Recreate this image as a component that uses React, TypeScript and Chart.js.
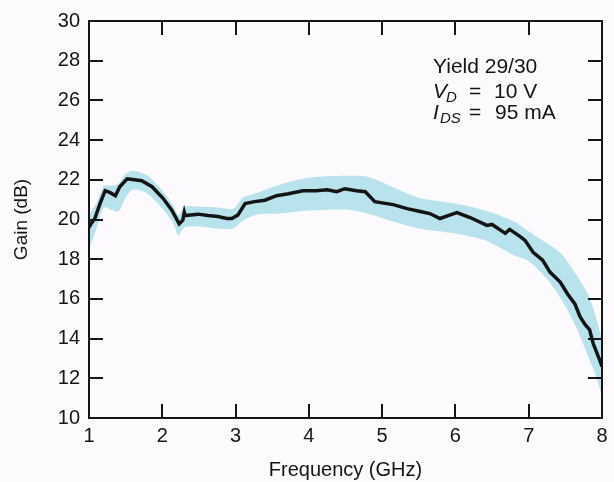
import React, { useEffect, useRef } from "react";
import { Chart, registerables } from "chart.js";

Chart.register(...registerables);

// Measured mean gain curve
const freqs = [1.0, 1.03, 1.08, 1.15, 1.22, 1.29, 1.36, 1.42, 1.52, 1.62, 1.72, 1.86, 2.01, 2.13, 2.23, 2.28, 2.3, 2.31, 2.49, 2.62, 2.76, 2.88, 2.95, 3.03, 3.13, 3.26, 3.4, 3.56, 3.72, 3.92, 4.1, 4.25, 4.38, 4.49, 4.65, 4.77, 4.9, 5.15, 5.34, 5.52, 5.65, 5.79, 5.9, 6.02, 6.2, 6.43, 6.5, 6.62, 6.68, 6.74, 6.88, 6.95, 7.06, 7.19, 7.29, 7.43, 7.53, 7.63, 7.7, 7.77, 7.83, 7.88, 7.97, 8.0];
const gain = [19.6, 19.8, 20.05, 20.8, 21.45, 21.35, 21.2, 21.65, 22.05, 22.0, 21.95, 21.65, 21.07, 20.47, 19.78, 19.97, 20.35, 20.2, 20.27, 20.2, 20.15, 20.05, 20.05, 20.22, 20.8, 20.9, 20.97, 21.2, 21.3, 21.45, 21.45, 21.5, 21.4, 21.55, 21.45, 21.4, 20.9, 20.75, 20.55, 20.4, 20.3, 20.05, 20.2, 20.35, 20.1, 19.7, 19.75, 19.45, 19.3, 19.5, 19.15, 18.95, 18.35, 17.95, 17.35, 16.85, 16.25, 15.75, 15.1, 14.7, 14.45, 13.75, 12.9, 12.6];

// Spread band (min/max over devices)
const bandFreq = [1.0, 1.1, 1.2, 1.3, 1.4, 1.5, 1.6, 1.8, 2.0, 2.15, 2.22, 2.3, 2.5, 2.75, 2.97, 3.1, 3.3, 3.6, 4.0, 4.5, 4.8, 5.1, 5.5, 6.0, 6.4, 6.8, 7.0, 7.25, 7.45, 7.65, 7.8, 7.9, 8.0];
const bandUpper = [20.2, 20.8, 21.7, 21.7, 21.8, 22.3, 22.45, 22.2, 21.45, 20.7, 20.2, 20.65, 20.65, 20.6, 20.55, 21.1, 21.35, 21.75, 22.1, 22.2, 22.15, 21.7, 21.1, 20.8, 20.45, 19.9, 19.4, 18.8, 18.25, 17.2, 16.3, 15.3, 13.9];
const bandLower = [18.5, 19.5, 20.6, 20.5, 20.4, 21.1, 21.5, 21.3, 20.55, 19.8, 19.2, 19.6, 19.65, 19.55, 19.55, 19.95, 20.25, 20.3, 20.45, 20.5, 20.3, 19.95, 19.55, 19.3, 18.95, 18.2, 17.9, 17.0, 15.95, 14.55, 13.2, 12.3, 11.1];

const xTicks = [1, 2, 3, 4, 5, 6, 7, 8];
const yTicks = [10, 12, 14, 16, 18, 20, 22, 24, 26, 28, 30];

const FONT = "'Liberation Sans', Arial, Helvetica, sans-serif";

const framePlugin = {
  id: "frame",
  afterDraw(chart: any) {
    const { ctx, chartArea: a, scales } = chart;
    const L = 14;
    ctx.save();
    ctx.strokeStyle = "#151515";
    ctx.lineWidth = 2;
    ctx.beginPath();
    xTicks.forEach((v) => {
      const px = Math.round(scales.x.getPixelForValue(v));
      if (px <= a.left + 1 || px >= a.right - 1) return;
      ctx.moveTo(px, a.bottom);
      ctx.lineTo(px, a.bottom - L);
      ctx.moveTo(px, a.top);
      ctx.lineTo(px, a.top + L);
    });
    yTicks.forEach((v) => {
      const py = Math.round(scales.y.getPixelForValue(v));
      if (py <= a.top + 1 || py >= a.bottom - 1) return;
      ctx.moveTo(a.left, py);
      ctx.lineTo(a.left + L, py);
      ctx.moveTo(a.right, py);
      ctx.lineTo(a.right - L, py);
    });
    ctx.stroke();
    ctx.strokeRect(a.left, a.top, a.right - a.left, a.bottom - a.top);

    // annotation
    const x0 = a.left + 344;
    const y0 = a.top;
    ctx.fillStyle = "#151515";
    ctx.textBaseline = "alphabetic";
    ctx.textAlign = "left";
    ctx.font = `21px ${FONT}`;
    ctx.fillText("Yield 29/30", x0, y0 + 52);
    // V_D = 10 V
    ctx.font = `italic 21px ${FONT}`;
    ctx.fillText("V", x0, y0 + 77);
    ctx.font = `italic 15px ${FONT}`;
    ctx.fillText("D", x0 + 13, y0 + 81);
    ctx.font = `21px ${FONT}`;
    ctx.fillText("=", x0 + 36, y0 + 77);
    ctx.fillText("10 V", x0 + 61, y0 + 77);
    // I_DS = 95 mA
    ctx.font = `italic 21px ${FONT}`;
    ctx.fillText("I", x0, y0 + 98);
    ctx.font = `italic 15px ${FONT}`;
    ctx.fillText("DS", x0 + 7, y0 + 102);
    ctx.font = `21px ${FONT}`;
    ctx.fillText("=", x0 + 36, y0 + 98);
    ctx.fillText("95 mA", x0 + 62, y0 + 98);
    ctx.restore();
  },
};

export default function App() {
  const ref = useRef<HTMLCanvasElement>(null);
  useEffect(() => {
    if (!ref.current) return;
    Chart.defaults.font.family = FONT;
    const chart = new Chart(ref.current, {
      type: "line",
      data: {
        datasets: [
          {
            label: "Gain",
            data: freqs.map((f, i) => ({ x: f, y: gain[i] })),
            borderColor: "#141414",
            borderWidth: 3.5,
            pointRadius: 0,
            tension: 0,
            fill: false,
            order: 0,
          },
          {
            label: "Upper",
            data: bandFreq.map((f, i) => ({ x: f, y: bandUpper[i] })),
            borderColor: "rgba(0,0,0,0)",
            borderWidth: 0,
            backgroundColor: "#b8e3ed",
            pointRadius: 0,
            tension: 0.3,
            fill: "+1",
            order: 1,
          },
          {
            label: "Lower",
            data: bandFreq.map((f, i) => ({ x: f, y: bandLower[i] })),
            borderColor: "rgba(0,0,0,0)",
            borderWidth: 0,
            pointRadius: 0,
            tension: 0.3,
            fill: false,
            order: 2,
          },
        ],
      },
      options: {
        animation: false,
        responsive: false,
        maintainAspectRatio: false,
        layout: { padding: { left: 0, right: 12, top: 15, bottom: 0 } },
        plugins: { legend: { display: false }, tooltip: { enabled: false } },
        scales: {
          x: {
            type: "linear",
            min: 1,
            max: 8,
            afterBuildTicks: (s: any) => {
              s.ticks = xTicks.map((v) => ({ value: v }));
            },
            afterFit: (s: any) => {
              s.height = 64;
            },
            grid: { display: false, drawTicks: false },
            border: { display: false },
            ticks: { color: "#151515", font: { size: 20 }, padding: 6, maxRotation: 0 },
            title: {
              display: true,
              text: "Frequency (GHz)",
              color: "#151515",
              font: { size: 20 },
              padding: { top: 0, bottom: 0 },
            },
          },
          y: {
            type: "linear",
            min: 10,
            max: 30,
            afterBuildTicks: (s: any) => {
              s.ticks = yTicks.map((v) => ({ value: v }));
            },
            afterFit: (s: any) => {
              s.width = 89;
            },
            grid: { display: false, drawTicks: false },
            border: { display: false },
            ticks: { color: "#151515", font: { size: 20 }, padding: 9 },
            title: {
              display: true,
              text: "Gain (dB)",
              color: "#151515",
              font: { size: 19 },
              padding: { top: 10, bottom: 0 },
            },
          },
        },
      },
      plugins: [framePlugin],
    });
    return () => chart.destroy();
  }, []);
  return (
    <div style={{ position: "fixed", left: 0, top: 0, width: 614, height: 482, background: "#fdfafd" }}>
      <canvas ref={ref} width={614} height={482} style={{ width: 614, height: 482, display: "block" }} />
    </div>
  );
}
